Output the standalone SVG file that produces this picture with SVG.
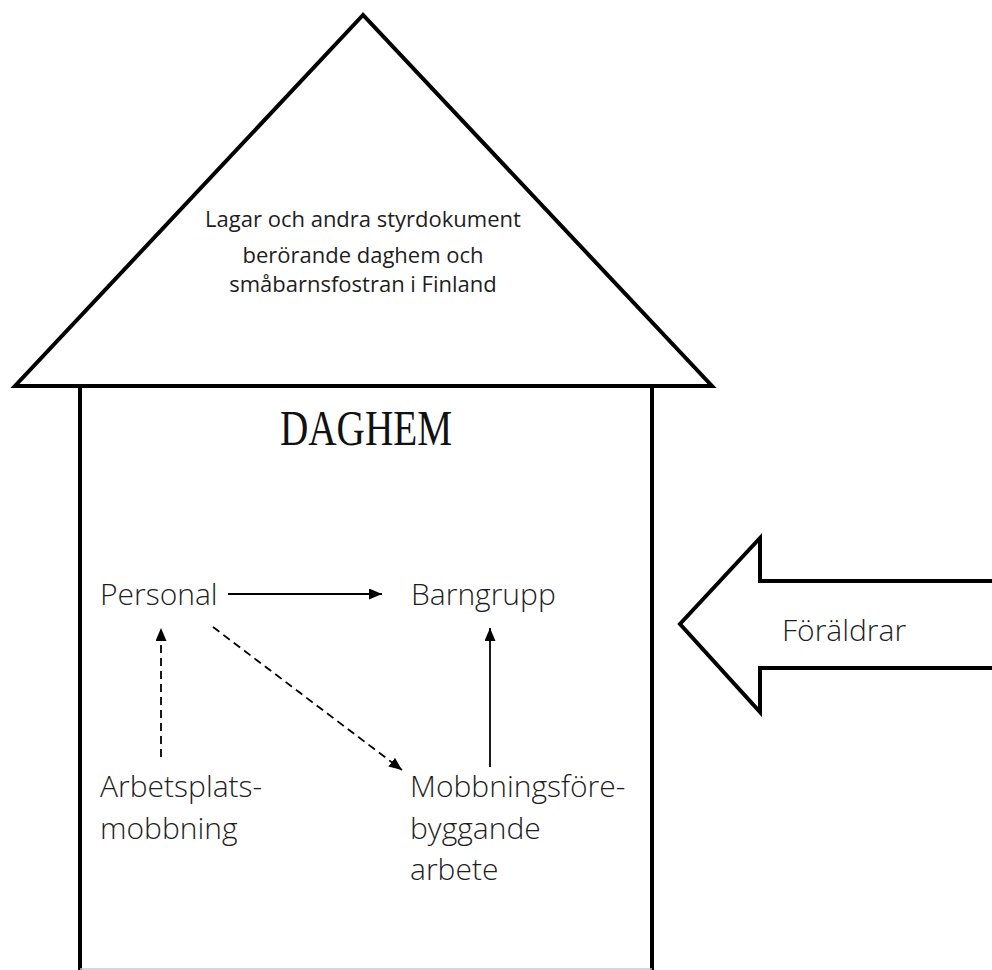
<svg xmlns="http://www.w3.org/2000/svg" width="992" height="970" viewBox="0 0 992 970">
  <defs>
    <marker id="head" viewBox="0 0 13 11" refX="13" refY="5.5" markerWidth="13" markerHeight="11" markerUnits="userSpaceOnUse" orient="auto">
      <path d="M0,0 L13,5.5 L0,11 Z" fill="#000"/>
    </marker>
    <style>
      .outline { fill: #fff; stroke: #000; stroke-width: 4; stroke-linejoin: miter; }
      .label { font-family: "Open Sans", "Liberation Sans", sans-serif; font-weight: 300; font-size: 30px; fill: #1e1e1e; }
      .roof-text { font-family: "Open Sans", "Liberation Sans", sans-serif; font-size: 22px; fill: #1e1e1e; text-anchor: middle; }
      .link { stroke: #000; stroke-width: 1.8; fill: none; marker-end: url(#head); }
      .dashed { stroke-dasharray: 8 5; }
    </style>
  </defs>
  <rect width="992" height="970" fill="#fff"/>

  <!-- roof -->
  <g id="roof">
    <polygon class="outline" points="363,15 15,386 712,386"/>
    <text class="roof-text" x="363" y="227">Lagar och andra styrdokument</text>
    <text class="roof-text" x="363" y="263">berörande daghem och</text>
    <text class="roof-text" x="363" y="292">småbarnsfostran i Finland</text>
  </g>

  <!-- house body -->
  <g id="house">
    <path d="M80,388 V970 M652,388 V970" stroke="#000" stroke-width="4" fill="none"/>
    <line x1="80" y1="969" x2="652" y2="969" stroke="#c8c8c8" stroke-width="1.5"/>
    <text x="280" y="445" font-family="Liberation Serif, serif" font-size="50" textLength="172" lengthAdjust="spacingAndGlyphs" fill="#111">DAGHEM</text>
  </g>

  <!-- parents arrow -->
  <g id="parents">
    <path class="outline" stroke-width="3" d="M995,581 H760 V538 L680,624 L760,712 V668 H995"/>
    <text class="label" x="782" y="641">Föräldrar</text>
  </g>

  <g id="personal"><text class="label" x="100" y="605">Personal</text></g>
  <g id="barngrupp"><text class="label" x="411" y="605">Barngrupp</text></g>
  <g id="arbetsplatsmobbning">
    <text class="label" x="100" y="797">Arbetsplats-</text>
    <text class="label" x="100" y="839">mobbning</text>
  </g>
  <g id="forebyggande">
    <text class="label" x="410" y="797">Mobbningsföre-</text>
    <text class="label" x="410" y="839">byggande</text>
    <text class="label" x="410" y="880">arbete</text>
  </g>

  <!-- connectors -->
  <g id="connectors">
    <line class="link" x1="228" y1="594" x2="382" y2="594"/>
    <line class="link dashed" x1="161" y1="757" x2="161" y2="628"/>
    <line class="link dashed" x1="213" y1="627" x2="402" y2="770"/>
    <line class="link" x1="490" y1="767" x2="490" y2="628"/>
  </g>
</svg>
